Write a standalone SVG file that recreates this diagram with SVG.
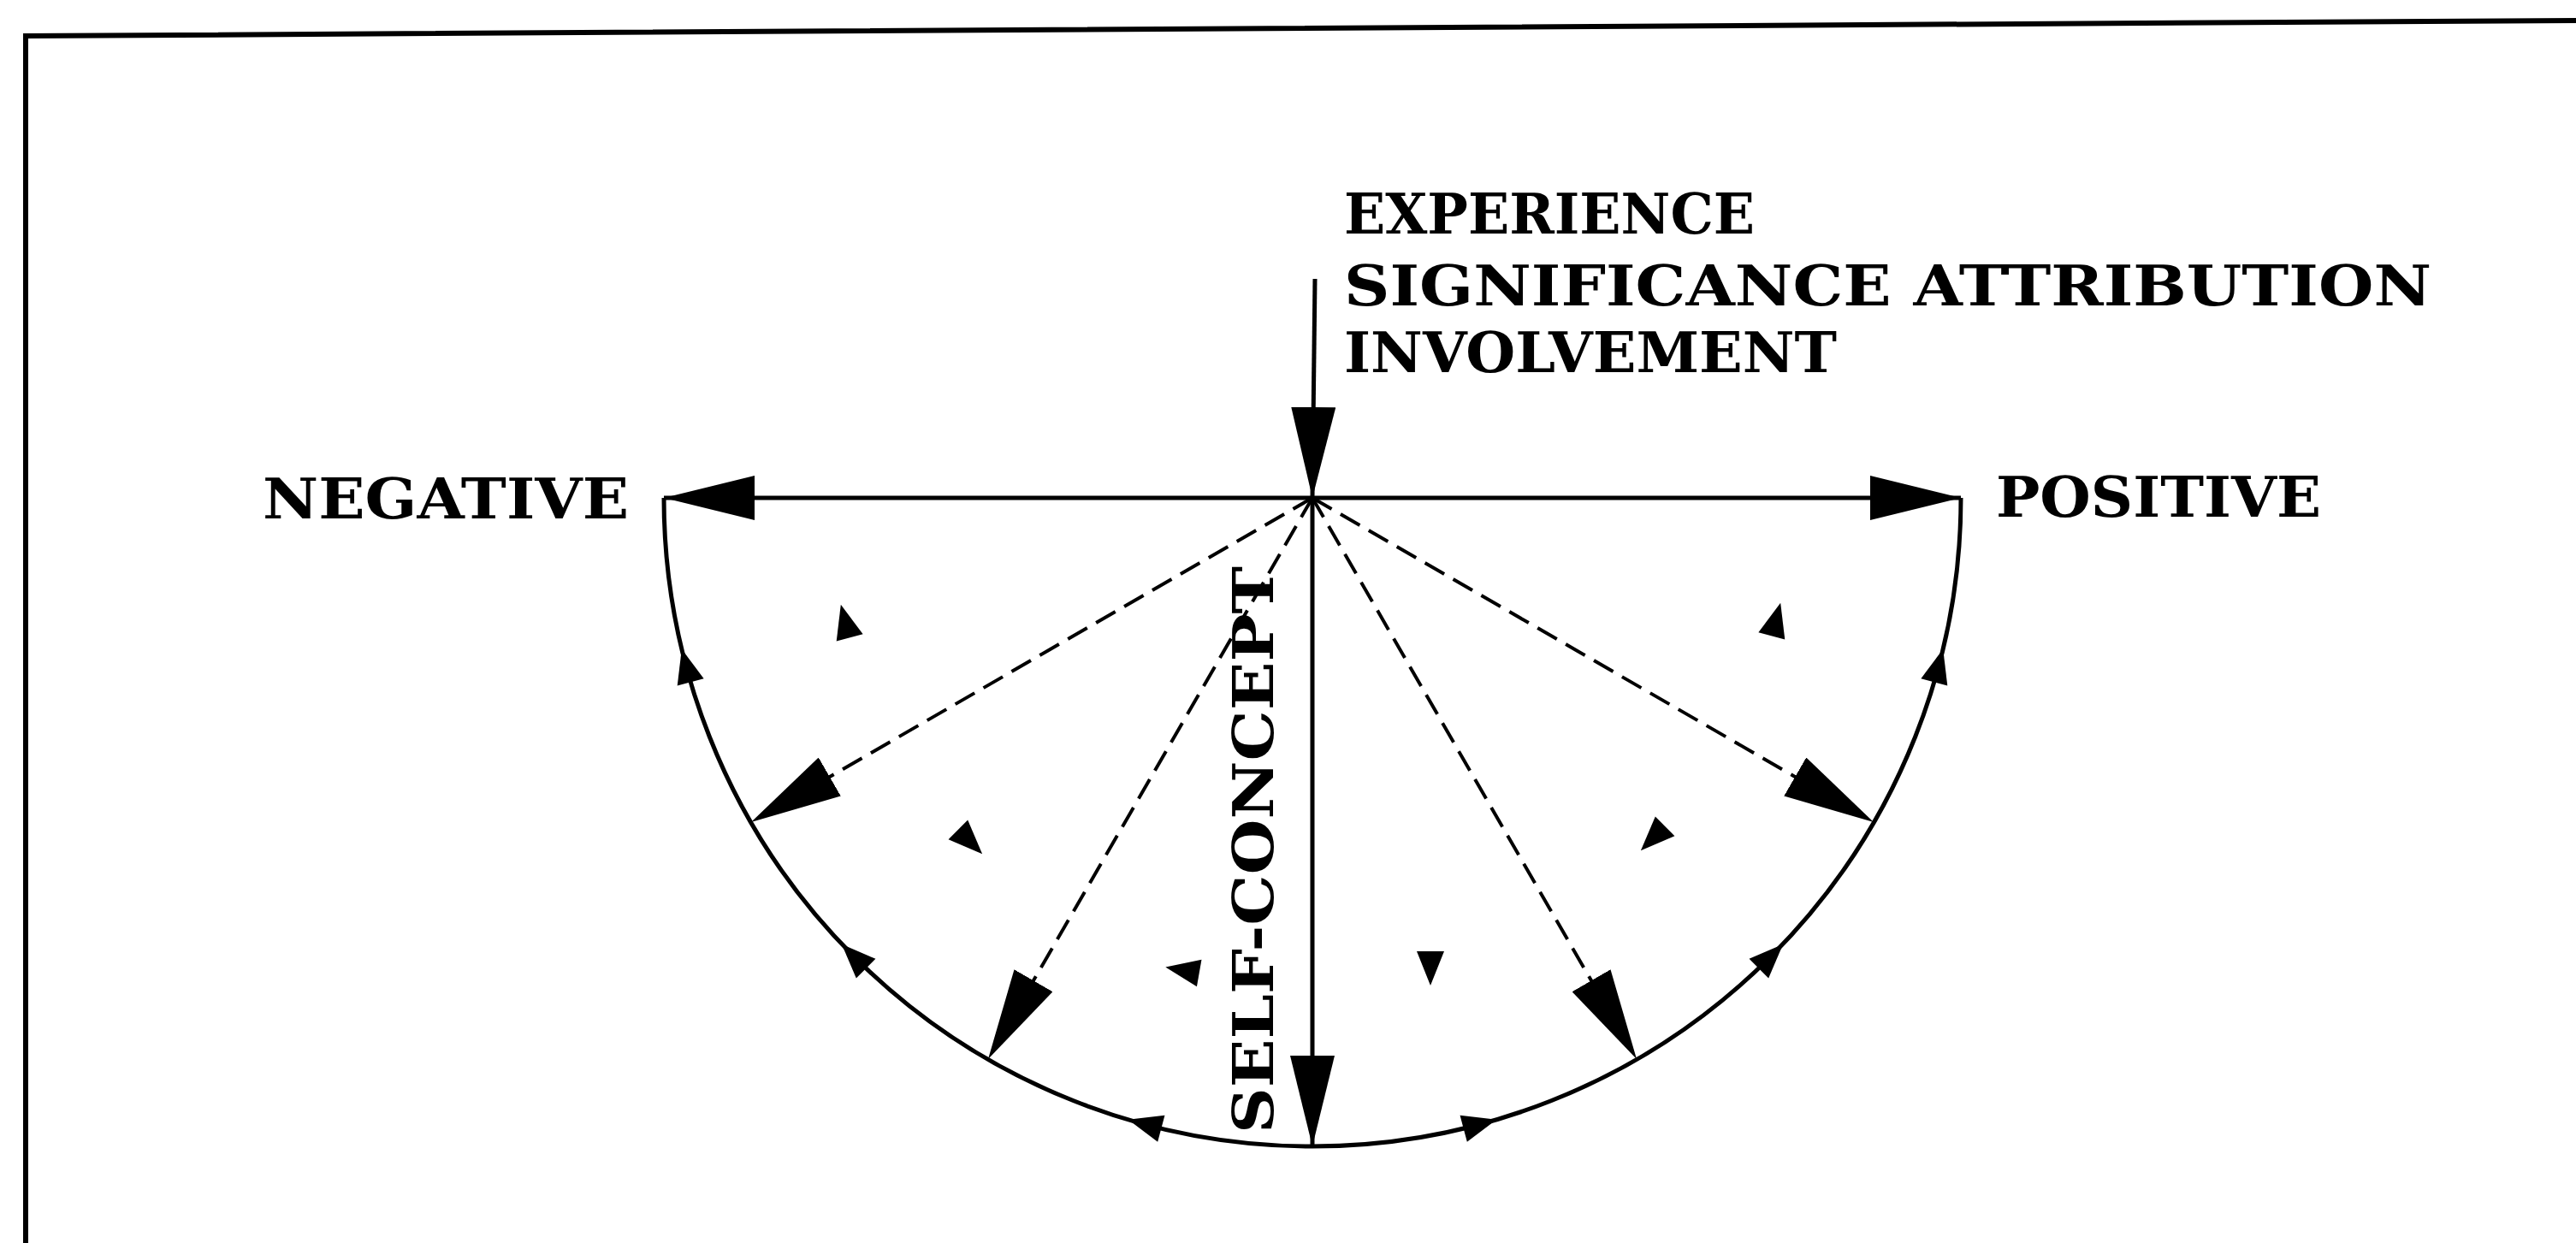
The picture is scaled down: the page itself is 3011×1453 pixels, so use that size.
<svg xmlns="http://www.w3.org/2000/svg" xmlns:xlink="http://www.w3.org/1999/xlink" width="3011" height="1453" viewBox="0 0 3011 1453">
<style>
.lbl{font-family:"DejaVu Serif","Liberation Serif",serif;font-weight:bold;font-size:65px;fill:#000}
.solid{stroke:#000;stroke-width:5;fill:none}
.dash{stroke:#000;stroke-width:4;fill:none;stroke-dasharray:26 12}
.frame{stroke:#000;stroke-width:6;fill:none}
</style>
<defs>
<marker id="big" markerUnits="userSpaceOnUse" viewBox="0 0 106 52" markerWidth="106" markerHeight="52" refX="106" refY="26" orient="auto">
<path d="M0,0 L106,26 L0,52 z" fill="#000"/>
</marker>
<path id="sa" d="M20,0 L-20,-16 L-20,16 z" fill="#000"/>
</defs>
<rect width="3011" height="1453" fill="#fff"/>
<g id="frame">
<path class="frame" d="M30,1453 L30,42 L3011,24"/>
</g>
<g id="connectors">
<path class="solid" d="M776,582 A758,758 0 0 0 2292,582"/>
<line class="solid" x1="1537" y1="326" x2="1534" y2="582" marker-end="url(#big)"/>
<line class="solid" x1="1534" y1="582" x2="776" y2="582" marker-end="url(#big)"/>
<line class="solid" x1="1534" y1="582" x2="2292" y2="582" marker-end="url(#big)"/>
<line class="solid" x1="1534" y1="582" x2="1534" y2="1340" marker-end="url(#big)"/>
<line class="dash" x1="1534" y1="582" x2="878" y2="961" marker-end="url(#big)"/>
<line class="dash" x1="1534" y1="582" x2="1155" y2="1238" marker-end="url(#big)"/>
<line class="dash" x1="1534" y1="582" x2="1913" y2="1238" marker-end="url(#big)"/>
<line class="dash" x1="1534" y1="582" x2="2190" y2="961" marker-end="url(#big)"/>
<use xlink:href="#sa" transform="translate(802,778) rotate(-105)"/>
<use xlink:href="#sa" transform="translate(998,1118) rotate(-135)"/>
<use xlink:href="#sa" transform="translate(1338,1314) rotate(-165)"/>
<use xlink:href="#sa" transform="translate(1730,1314) rotate(-15)"/>
<use xlink:href="#sa" transform="translate(2070,1118) rotate(-45)"/>
<use xlink:href="#sa" transform="translate(2266,778) rotate(-75)"/>
<use xlink:href="#sa" transform="translate(988,726) rotate(-105)"/>
<use xlink:href="#sa" transform="translate(1134,984) rotate(45)"/>
<use xlink:href="#sa" transform="translate(1382,1134) rotate(-170)"/>
<use xlink:href="#sa" transform="translate(1672,1132) rotate(90)"/>
<use xlink:href="#sa" transform="translate(1932,980) rotate(135)"/>
<use xlink:href="#sa" transform="translate(2076,724) rotate(-75)"/>
</g>
<g id="node-experience"><text class="lbl" x="1571" y="273" textLength="480" lengthAdjust="spacingAndGlyphs">EXPERIENCE</text></g>
<g id="node-significance"><text class="lbl" x="1571" y="357" textLength="1271" lengthAdjust="spacingAndGlyphs">SIGNIFICANCE ATTRIBUTION</text></g>
<g id="node-involvement"><text class="lbl" x="1571" y="435" textLength="576" lengthAdjust="spacingAndGlyphs">INVOLVEMENT</text></g>
<g id="node-negative"><text class="lbl" x="307" y="606" textLength="428" lengthAdjust="spacingAndGlyphs">NEGATIVE</text></g>
<g id="node-positive"><text class="lbl" x="2333" y="604" textLength="380" lengthAdjust="spacingAndGlyphs">POSITIVE</text></g>
<g id="node-selfconcept"><text class="lbl" transform="translate(1488,1325) rotate(-90)" x="0" y="0" textLength="663" lengthAdjust="spacingAndGlyphs">SELF-CONCEPT</text></g>
</svg>
